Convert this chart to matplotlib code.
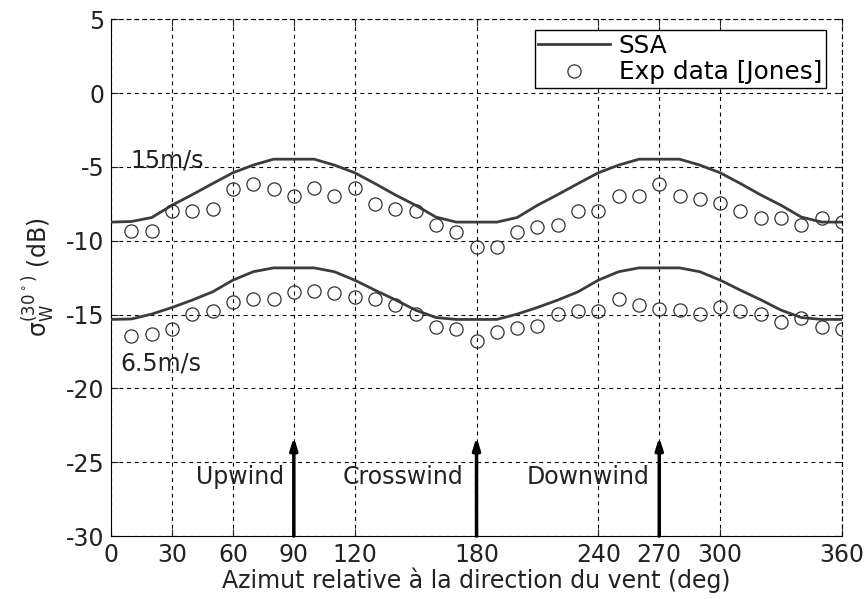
import matplotlib
matplotlib.use("Agg")
import matplotlib.pyplot as plt

plt.rcParams['font.family'] = ['DejaVu Sans']
plt.rcParams['mathtext.fontset'] = 'dejavusans'
plt.rcParams['axes.unicode_minus'] = False

# SSA model, sampled every 10 deg
azim_ssa = [0, 10, 20, 30, 40, 50, 60, 70, 80, 90, 100, 110, 120, 130, 140, 150, 160, 170, 180,
            190, 200, 210, 220, 230, 240, 250, 260, 270, 280, 290, 300, 310, 320, 330, 340, 350, 360]
ssa_15 = [-8.74, -8.70, -8.43, -7.60, -6.88, -6.13, -5.40, -4.88, -4.48, -4.48, -4.48, -4.88, -5.40,
          -6.13, -6.90, -7.60, -8.40, -8.74, -8.74,
          -8.74, -8.43, -7.60, -6.88, -6.13, -5.40, -4.88, -4.48, -4.48, -4.48, -4.88, -5.40,
          -6.13, -6.90, -7.60, -8.40, -8.74, -8.74]
ssa_65 = [-15.33, -15.30, -14.97, -14.52, -14.02, -13.46, -12.67, -12.10, -11.84, -11.84, -11.84,
          -12.10, -12.67, -13.35, -14.00, -14.70, -15.20, -15.33, -15.33,
          -15.33, -14.97, -14.52, -14.02, -13.46, -12.67, -12.10, -11.84, -11.84, -11.84,
          -12.10, -12.67, -13.35, -14.00, -14.70, -15.20, -15.33, -15.33]

# measurements [Jones]
azim_exp = [10, 20, 30, 40, 50, 60, 70, 80, 90, 100, 110, 120, 130, 140, 150, 160, 170, 180,
            190, 200, 210, 220, 230, 240, 250, 260, 270, 280, 290, 300, 310, 320, 330, 340, 350, 360]
exp_15 = [-9.33, -9.33, -8.00, -8.00, -7.82, -6.51, -6.17, -6.51, -6.98, -6.46, -6.98, -6.46,
          -7.53, -7.82, -8.00, -8.95, -9.44, -10.41,
          -10.40, -9.44, -9.10, -8.95, -8.00, -8.00, -6.98, -6.98, -6.13, -6.98, -7.19, -7.48,
          -8.00, -8.43, -8.43, -8.95, -8.43, -8.72]
exp_65 = [-16.44, -16.33, -15.99, -14.99, -14.75, -14.14, -13.96, -13.96, -13.46, -13.42, -13.53,
          -13.80, -13.96, -14.36, -14.97, -15.83, -15.99, -16.80,
          -16.20, -15.94, -15.79, -14.97, -14.77, -14.77, -13.96, -14.36, -14.59, -14.66, -14.97,
          -14.48, -14.77, -14.99, -15.49, -15.20, -15.83, -15.99]

xticks = [0, 30, 60, 90, 120, 180, 240, 270, 300, 360]
yticks = [5, 0, -5, -10, -15, -20, -25, -30]
wind_dirs = [90, 180, 270]
wind_names = ["Upwind", "Crosswind", "Downwind"]
wind_name_x = [63.5, 144, 235]

fs = 17
txt_col = "#222222"

fig = plt.figure(figsize=(8.68, 5.99), dpi=100)
ax = fig.add_axes([0.128, 0.105, 0.842, 0.863])

line_col = "#3c3c3c"
ax.plot(azim_ssa, ssa_15, color=line_col, lw=2.0, label="SSA", zorder=3)
ax.plot(azim_ssa, ssa_65, color=line_col, lw=2.0, zorder=3)
ax.plot(azim_exp, exp_15, "o", mfc="none", mec="#333333", ms=9.5, mew=0.9,
        label="Exp data [Jones]", zorder=4)
ax.plot(azim_exp, exp_65, "o", mfc="none", mec="#333333", ms=9.5, mew=0.9, zorder=4)

ax.set_xlim(0, 360)
ax.set_ylim(-30, 5)
ax.set_xticks(xticks)
ax.set_yticks(yticks)
ax.tick_params(direction="in", length=5, labelsize=fs, top=True, right=True,
               colors=txt_col, pad=5)
ax.grid(True, color="black", lw=0.8, linestyle=(0, (3.5, 3.5)))
for side in ["top", "right"]:
    ax.spines[side].set_linestyle((0, (3.5, 3.5)))
    ax.spines[side].set_linewidth(0.8)

ax.set_xlabel("Azimut relative à la direction du vent (deg)", fontsize=fs, color=txt_col,
              labelpad=0)
ax.set_ylabel(r"$\mathregular{\sigma_W^{(30^\circ)}}$ (dB)", fontsize=fs, color=txt_col,
              labelpad=6)

ax.text(9.4, -4.6, "15m/s", fontsize=fs, color=txt_col, va="center", ha="left")
ax.text(4.8, -18.3, "6.5m/s", fontsize=fs, color=txt_col, va="center", ha="left")

for xd, name, xn in zip(wind_dirs, wind_names, wind_name_x):
    ax.annotate("", xy=(xd, -23.3), xytext=(xd, -30),
                arrowprops=dict(arrowstyle="-|>,head_length=0.7,head_width=0.22",
                                color="black", lw=2.5, shrinkA=0, shrinkB=0))
    ax.text(xn, -26.0, name, fontsize=fs, color=txt_col, ha="center", va="center")

leg = ax.legend(loc="upper right", bbox_to_anchor=(0.978, 0.979), fontsize=17.8,
                frameon=True, fancybox=False, edgecolor="black", framealpha=1,
                borderpad=0.15, handlelength=2.9, handletextpad=0.35, labelspacing=0.1,
                borderaxespad=0)
leg.get_frame().set_linewidth(1.0)

fig.savefig("out.png", dpi=100)
